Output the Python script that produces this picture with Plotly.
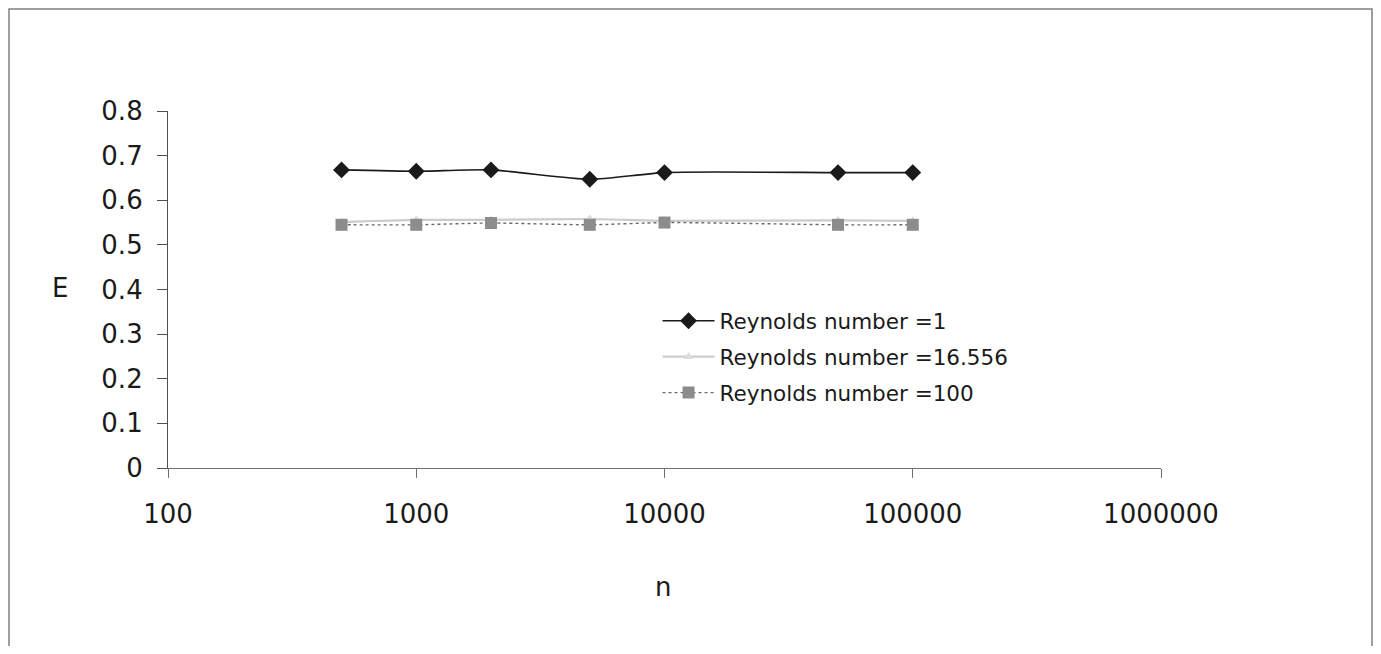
import plotly.graph_objects as go

n_values = [500, 1000, 2000, 5000, 10000, 50000, 100000]
e_re1 = [0.668, 0.665, 0.668, 0.647, 0.662, 0.662, 0.662]
e_re16 = [0.551, 0.556, 0.556, 0.558, 0.554, 0.555, 0.554]
e_re100 = [0.545, 0.545, 0.549, 0.545, 0.550, 0.545, 0.545]
series_names = ["Reynolds number =1", "Reynolds number =16.556", "Reynolds number =100"]
x_ticks = [100, 1000, 10000, 100000, 1000000]
x_tick_labels = ["100", "1000", "10000", "100000", "1000000"]
y_ticks = [0, 0.1, 0.2, 0.3, 0.4, 0.5, 0.6, 0.7, 0.8]
y_tick_labels = ["0", "0.1", "0.2", "0.3", "0.4", "0.5", "0.6", "0.7", "0.8"]

FONT = "DejaVu Sans"

fig = go.Figure()
fig.add_trace(go.Scatter(
    x=n_values, y=e_re1, name=series_names[0], mode="lines+markers",
    line=dict(color="#1a1a1a", width=1.6, shape="spline", smoothing=0.6),
    marker=dict(symbol="diamond", size=13, color="#1a1a1a"),
    legendgroup="a"))
fig.add_trace(go.Scatter(
    x=n_values, y=e_re16, name=series_names[1], mode="lines+markers",
    line=dict(color="#cccccc", width=2.2, shape="spline", smoothing=0.6),
    marker=dict(symbol="triangle-up", size=9, color="#dcdcdc"),
    legendgroup="b"))
fig.add_trace(go.Scatter(
    x=n_values, y=e_re100, name=series_names[2], mode="lines+markers",
    line=dict(color="#6a6a6a", width=1.4, dash="dot", shape="spline", smoothing=0.6),
    marker=dict(symbol="square", size=12, color="#8c8c8c"),
    legendgroup="c"))

# plot area in page pixels: x 168..1161, y 111..468 (page body has 8px margin)
PW, PH = 993, 357

fig.update_layout(
    width=1365, height=638,
    margin=dict(l=160, r=212, t=103, b=178),
    paper_bgcolor="white", plot_bgcolor="white",
    font=dict(family=FONT, color="#1a1a1a", size=26),
    showlegend=True,
    legend=dict(x=0.493, y=0.47, xanchor="left", yanchor="top",
                font=dict(family=FONT, size=21.5, color="#1a1a1a"),
                bgcolor="rgba(0,0,0,0)", tracegroupgap=5, itemwidth=52),
    xaxis=dict(type="log", range=[2, 6], tickvals=x_ticks, ticktext=x_tick_labels,
               showgrid=False, zeroline=False, showline=True, linecolor="#707070",
               linewidth=1.2, ticks="outside", ticklen=9, tickcolor="#707070",
               ticklabelstandoff=14, tickfont=dict(family=FONT, size=26, color="#1a1a1a")),
    yaxis=dict(range=[0, 0.8], tickvals=y_ticks, ticktext=y_tick_labels,
               showgrid=False, zeroline=False, showline=True, linecolor="#505050",
               linewidth=1.2, ticks="outside", ticklen=10, tickcolor="#505050",
               ticklabelstandoff=9, tickfont=dict(family=FONT, size=26, color="#1a1a1a")),
    annotations=[
        dict(text="E", xref="paper", yref="paper", x=(60 - 168) / PW, y=(468 - 288) / PH,
             showarrow=False, xanchor="center", yanchor="middle",
             font=dict(family=FONT, size=26, color="#1a1a1a")),
        dict(text="n", xref="paper", yref="paper", x=(663 - 168) / PW, y=(468 - 587) / PH,
             showarrow=False, xanchor="center", yanchor="middle",
             font=dict(family=FONT, size=26, color="#1a1a1a")),
    ],
    shapes=[
        dict(type="rect", xref="paper", yref="paper",
             x0=(9 - 168) / PW, x1=(1372 - 168) / PH * PH / PW,
             y0=(468 - 700) / PH, y1=(468 - 9) / PH,
             line=dict(color="#808080", width=1.5), fillcolor="rgba(0,0,0,0)", layer="below"),
    ],
)

fig.write_html("out.html")
